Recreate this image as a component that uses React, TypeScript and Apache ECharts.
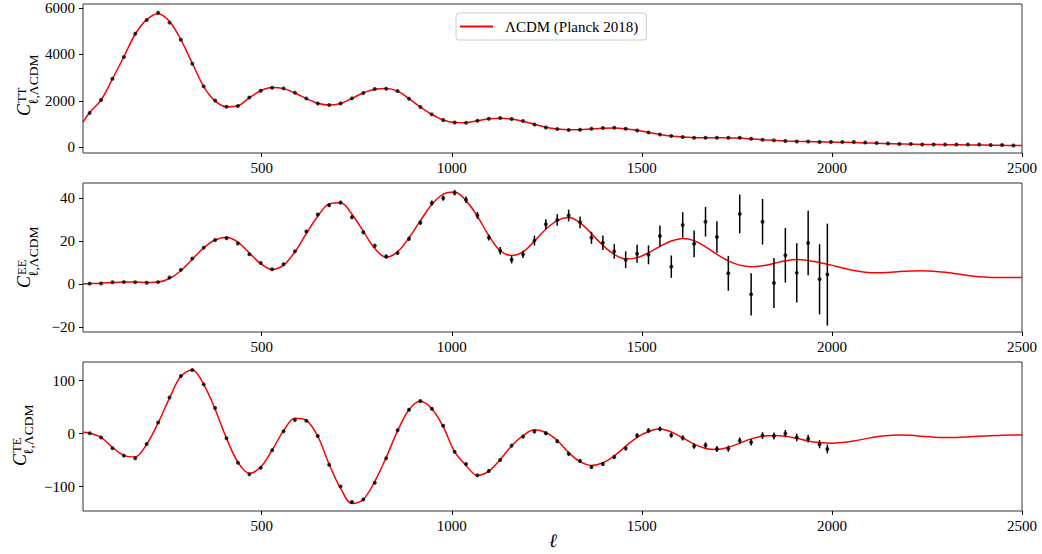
import React, { useEffect, useRef } from 'react';
import * as echarts from 'echarts';

// Binned multipole centres (Δℓ = 30)
const ELL_BINS = [
  47.5, 77.5, 107.5, 137.5, 167.5, 197.5, 227.5, 257.5, 287.5, 317.5,
  347.5, 377.5, 407.5, 437.5, 467.5, 497.5, 527.5, 557.5, 587.5, 617.5,
  647.5, 677.5, 707.5, 737.5, 767.5, 797.5, 827.5, 857.5, 887.5, 917.5,
  947.5, 977.5, 1007.5, 1037.5, 1067.5, 1097.5, 1127.5, 1157.5, 1187.5, 1217.5,
  1247.5, 1277.5, 1307.5, 1337.5, 1367.5, 1397.5, 1427.5, 1457.5, 1487.5, 1517.5,
  1547.5, 1577.5, 1607.5, 1637.5, 1667.5, 1697.5, 1727.5, 1757.5, 1787.5, 1817.5,
  1847.5, 1877.5, 1907.5, 1937.5, 1967.5, 1997.5, 2027.5, 2057.5, 2087.5, 2117.5,
  2147.5, 2177.5, 2207.5, 2237.5, 2267.5, 2297.5, 2327.5, 2357.5, 2387.5, 2417.5,
  2447.5, 2477.5,
];
const ELL_POL = [...ELL_BINS.slice(0, 65), 1988];
const ELL_MODEL = [30, ...ELL_BINS, 2500];

// TT data points
const TT_DATA = [
  1481, 2040, 2957, 3890, 4894, 5484, 5798, 5368, 4636, 3603,
  2626, 2023, 1752, 1782, 2152, 2441, 2570, 2540, 2355, 2109,
  1894, 1825, 1894, 2110, 2341, 2513, 2527, 2428, 2096, 1739,
  1421, 1180, 1076, 1063, 1149, 1235, 1266, 1222, 1136, 990,
  861, 792, 749, 762, 805, 835, 848, 805, 732, 646,
  560, 491, 448, 418, 418, 418, 418, 418, 374, 331,
  303, 274, 258, 258, 230, 230, 230, 230, 216, 187,
  172, 143, 143, 129, 129, 129, 129, 129, 129, 100,
  100, 86,
];
// TT LCDM curve (at ELL_MODEL)
const TT_MODEL = [
  1080,
  1500, 2040, 2950, 3900, 4880, 5500, 5755, 5420, 4640, 3620,
  2620, 2000, 1750, 1790, 2140, 2440, 2580, 2530, 2340, 2100,
  1900, 1820, 1890, 2110, 2340, 2500, 2530, 2420, 2100, 1740,
  1420, 1180, 1075, 1065, 1145, 1230, 1260, 1220, 1130, 990,
  865, 790, 755, 765, 800, 830, 840, 805, 735, 645,
  560, 490, 445, 420, 412, 412, 410, 400, 370, 335,
  305, 280, 262, 250, 240, 230, 222, 212, 195, 178,
  160, 148, 138, 130, 125, 120, 115, 108, 102, 96,
  90, 86,
  82,
];

// EE data points and errors
const EE_DATA = [
  0.2, 0.3, 0.8, 0.9, 0.8, 0.6, 0.9, 3.0, 6.6, 11.9,
  16.9, 20.5, 21.3, 18.9, 13.9, 9.8, 6.9, 9.2, 15.2, 24.4,
  32.3, 36.7, 37.9, 31.1, 24.1, 17.8, 12.8, 14.5, 21.1, 28.6,
  37.7, 40.0, 42.5, 39.2, 31.9, 21.7, 15.5, 11.3, 13.8, 20.2,
  27.8, 29.8, 31.9, 28.7, 21.5, 19.2, 15.2, 11.3, 14.1, 13.6,
  22.3, 8.1, 27.5, 18.7, 29.0, 21.9, 5.0, 32.6, -4.8, 29.0,
  0.5, 13.4, 5.2, 19.1, 2.2, 4.4,
];
const EE_ERR = [
  0.1, 0.1, 0.1, 0.1, 0.1, 0.1, 0.1, 0.2, 0.3, 0.3,
  0.4, 0.4, 0.5, 0.5, 0.5, 0.5, 0.5, 0.6, 0.6, 0.7,
  0.7, 0.8, 0.8, 0.9, 0.9, 0.9, 1.0, 1.0, 1.0, 1.1,
  1.2, 1.2, 1.3, 1.5, 1.6, 1.4, 1.7, 1.7, 1.7, 2.3,
  2.3, 2.7, 2.7, 2.7, 2.8, 3.4, 3.4, 3.9, 4.2, 4.4,
  4.9, 5.2, 5.9, 6.2, 6.9, 7.3, 8.1, 9.0, 9.8, 10.6,
  11.6, 12.7, 13.8, 15.0, 16.3, 23.7,
];
const EE_MODEL = [
  0.1,
  0.2, 0.4, 0.7, 0.9, 0.9, 0.7, 0.9, 2.6, 6.2, 11.5,
  16.8, 20.5, 21.8, 19.5, 14.5, 9.5, 6.8, 8.8, 15.0, 23.5,
  31.5, 37.3, 37.8, 32.5, 24.5, 16.5, 12.5, 15.0, 21.5, 29.5,
  37.0, 41.8, 42.8, 38.8, 31.5, 22.5, 15.5, 13.3, 15.0, 20.0,
  25.5, 29.5, 30.9, 28.5, 23.5, 18.0, 13.8, 11.7, 12.3, 14.5,
  17.5, 20.0, 21.2, 20.2, 17.3, 13.8, 10.8, 8.8, 8.1, 8.5,
  9.6, 10.8, 11.4, 11.0, 10.0, 8.8, 7.5, 6.3, 5.5, 5.2,
  5.4, 5.8, 6.1, 6.2, 6.0, 5.5, 4.8, 4.0, 3.4, 3.1,
  3.0, 3.0,
  3.0,
];

// TE data points and errors
const TE_DATA = [
  0.7, -7.5, -27.7, -41.6, -46.6, -19.5, 20.9, 68.2, 108.7, 120.0,
  92.8, 48.1, -8.7, -54.9, -76.9, -64.4, -31.4, 4.5, 25.4, 24.1,
  -4.4, -58.7, -99.6, -128.8, -124.2, -92.8, -46.6, 6.4, 44.9, 61.4,
  46.8, 14.6, -34.1, -57.4, -78.8, -70.6, -49.8, -22.7, -5.7, 3.8,
  0.7, -14.4, -37.9, -51.7, -63.1, -57.4, -44.1, -27.7, -3.8, 5.7,
  8.9, -3.0, -8.1, -23.3, -22.0, -29.0, -28.4, -13.3, -16.3, -3.8,
  -4.4, 0.0, -7.5, -9.5, -20.1, -29.0,
];
const TE_ERR = [
  1.0, 1.0, 1.0, 1.0, 1.0, 1.0, 1.0, 1.0, 1.0, 1.0,
  1.2, 1.2, 1.2, 1.3, 1.3, 1.3, 1.4, 1.4, 1.5, 1.5,
  1.6, 1.6, 1.7, 1.8, 1.8, 1.9, 2.0, 2.0, 2.1, 2.2,
  2.3, 2.4, 2.5, 2.6, 2.7, 2.8, 2.9, 3.0, 3.1, 3.2,
  3.3, 3.4, 3.5, 3.6, 3.7, 3.8, 4.0, 4.1, 4.3, 4.4,
  4.6, 4.8, 5.0, 5.2, 5.4, 5.6, 5.8, 6.0, 6.2, 6.4,
  6.6, 6.8, 7.0, 7.3, 7.6, 8.2,
];
const TE_MODEL = [
  2.5,
  1, -7, -26, -41, -44, -20, 20, 67, 108, 120,
  93, 46, -9, -54, -75, -63, -31, 5, 29, 25,
  -5, -58, -103, -132, -124, -90, -45, 5, 45, 61,
  47, 13, -34, -60, -79, -71, -49, -23, -4, 7,
  2, -13, -36, -53, -60, -55, -42, -24, -7, 4,
  8.5, 3, -8, -20, -28, -30, -26, -18, -10, -5,
  -3.8, -5, -9, -14, -17, -18.2, -17, -14, -10, -6,
  -3.5, -2.5, -3.3, -5, -6.7, -7.5, -7.3, -6.3, -5, -4,
  -3, -2.6,
  -2.5,
];

const X_TICKS = [500, 1000, 1500, 2000, 2500];
const Y_TICKS = [
  [0, 2000, 4000, 6000],
  [-20, 0, 20, 40],
  [-100, 0, 100],
];
const Y_RANGES = [
  [-240, 6170],
  [-22.3, 47],
  [-146, 135],
];
const PANEL_SUPS = ['TT', 'EE', 'TE'];
const LEGEND_NAME = 'ΛCDM (Planck 2018)';

const FONT = "'Liberation Serif', 'Times New Roman', serif";

const GRIDS = [
  { left: 83, top: 4, width: 939, height: 149 },
  { left: 83, top: 183, width: 939, height: 149 },
  { left: 83, top: 362, width: 939, height: 149 },
];

const fmt = (v: number) => (v < 0 ? '\u2212' + String(Math.abs(v)) : String(v));

function yLabel(sup: string, cx: number, y0: number) {
  const txt = (text: string, x: number, y: number, font: string) => ({
    type: 'text',
    x,
    y,
    style: {
      text,
      font,
      fill: '#000',
      align: 'left',
      verticalAlign: 'middle',
      textAlign: 'left',
      textVerticalAlign: 'middle',
    },
  });
  return {
    type: 'group',
    x: 0,
    y: y0,
    rotation: Math.PI / 2,
    children: [
      txt('C', 0, cx, `italic 18px ${FONT}`),
      txt(sup, 13, cx - 2.5, `12.5px ${FONT}`),
      txt('ℓ,ΛCDM', 11, cx + 9, `13.5px ${FONT}`),
    ],
  };
}

const errRender = (params: any, api: any) => {
  const x = api.value(0);
  const y = api.value(1);
  const e = api.value(2);
  const p1 = api.coord([x, y - e]);
  const p2 = api.coord([x, y + e]);
  return {
    type: 'line',
    shape: { x1: p1[0], y1: p1[1], x2: p2[0], y2: p2[1] },
    style: { stroke: '#000', lineWidth: 1.5 },
  };
};

export default function App() {
  const ref = useRef<HTMLDivElement>(null);

  useEffect(() => {
    if (!ref.current) return;
    const chart = echarts.init(ref.current, undefined, { renderer: 'svg' });

    const models = [TT_MODEL, EE_MODEL, TE_MODEL];
    const dataSets = [
      { ell: ELL_BINS, v: TT_DATA, err: null as number[] | null },
      { ell: ELL_POL, v: EE_DATA, err: EE_ERR },
      { ell: ELL_POL, v: TE_DATA, err: TE_ERR },
    ];

    const series: any[] = [];
    models.forEach((m, i) => {
      series.push({
        type: 'line',
        name: LEGEND_NAME,
        xAxisIndex: i,
        yAxisIndex: i,
        data: ELL_MODEL.map((l, k) => [l, m[k]]),
        symbol: 'none',
        showSymbol: false,
        smooth: 0.35,
        lineStyle: { color: '#ff0000', width: 1.5 },
        itemStyle: { color: '#ff0000' },
        z: 2,
        silent: true,
      });
      const ds = dataSets[i];
      if (ds.err) {
        series.push({
          type: 'custom',
          name: 'err' + i,
          xAxisIndex: i,
          yAxisIndex: i,
          renderItem: errRender,
          data: ds.ell.map((l, k) => [l, ds.v[k], (ds.err as number[])[k]]),
          encode: { x: 0, y: 1 },
          z: 3,
          silent: true,
        });
      }
      series.push({
        type: 'scatter',
        name: 'data' + i,
        xAxisIndex: i,
        yAxisIndex: i,
        data: ds.ell.map((l, k) => [l, ds.v[k]]),
        symbol: 'circle',
        symbolSize: 4,
        itemStyle: { color: '#000' },
        z: 4,
        silent: true,
      });
    });

    const option: any = {
      animation: false,
      backgroundColor: '#fff',
      grid: GRIDS.map((g) => ({
        ...g,
        show: true,
        borderColor: '#333',
        borderWidth: 1,
        backgroundColor: 'transparent',
        containLabel: false,
      })),
      xAxis: GRIDS.map((_, i) => ({
        type: 'value',
        gridIndex: i,
        min: 30,
        max: 2500,
        position: 'bottom',
        axisLine: { show: false, onZero: false },
        splitLine: { show: false },
        axisTick: {
          show: true,
          inside: false,
          length: 4,
          customValues: X_TICKS,
          lineStyle: { color: '#000', width: 1 },
        },
        axisLabel: {
          show: true,
          customValues: X_TICKS,
          margin: 7,
          fontFamily: FONT,
          fontSize: 15,
          color: '#000',
          formatter: (v: number) => String(v),
        },
      })),
      yAxis: GRIDS.map((_, i) => ({
        type: 'value',
        gridIndex: i,
        min: Y_RANGES[i][0],
        max: Y_RANGES[i][1],
        position: 'left',
        axisLine: { show: false, onZero: false },
        splitLine: { show: false },
        axisTick: {
          show: true,
          inside: false,
          length: 4,
          customValues: Y_TICKS[i],
          lineStyle: { color: '#000', width: 1 },
        },
        axisLabel: {
          show: true,
          customValues: Y_TICKS[i],
          margin: 8,
          fontFamily: FONT,
          fontSize: 15,
          color: '#000',
          formatter: (v: number) => fmt(v),
        },
      })),
      legend: {
        data: [{ name: LEGEND_NAME, icon: 'rect' }],
        left: 456,
        top: 13,
        orient: 'horizontal',
        itemWidth: 33,
        itemHeight: 2,
        padding: [6, 8, 6, 4],
        borderColor: '#ccc',
        borderWidth: 1,
        borderRadius: 3,
        backgroundColor: '#fff',
        selectedMode: false,
        itemStyle: { color: '#ff0000' },
        lineStyle: { width: 0 },
        textStyle: {
          fontFamily: FONT,
          fontSize: 15,
          color: '#000',
          padding: [0, 0, 0, 7],
        },
      },
      graphic: [
        yLabel(PANEL_SUPS[0], 24, 116),
        yLabel(PANEL_SUPS[1], 24, 288),
        yLabel(PANEL_SUPS[2], 19.5, 466),
        {
          type: 'text',
          x: 553,
          y: 540,
          style: {
            text: 'ℓ',
            font: `italic 19px ${FONT}`,
            fill: '#000',
            align: 'center',
            verticalAlign: 'middle',
            textAlign: 'center',
            textVerticalAlign: 'middle',
          },
        },
      ],
      series,
    };

    chart.setOption(option);
    return () => chart.dispose();
  }, []);

  return (
    <div
      ref={ref}
      style={{ position: 'absolute', left: 0, top: 0, width: 1042, height: 554 }}
    />
  );
}
